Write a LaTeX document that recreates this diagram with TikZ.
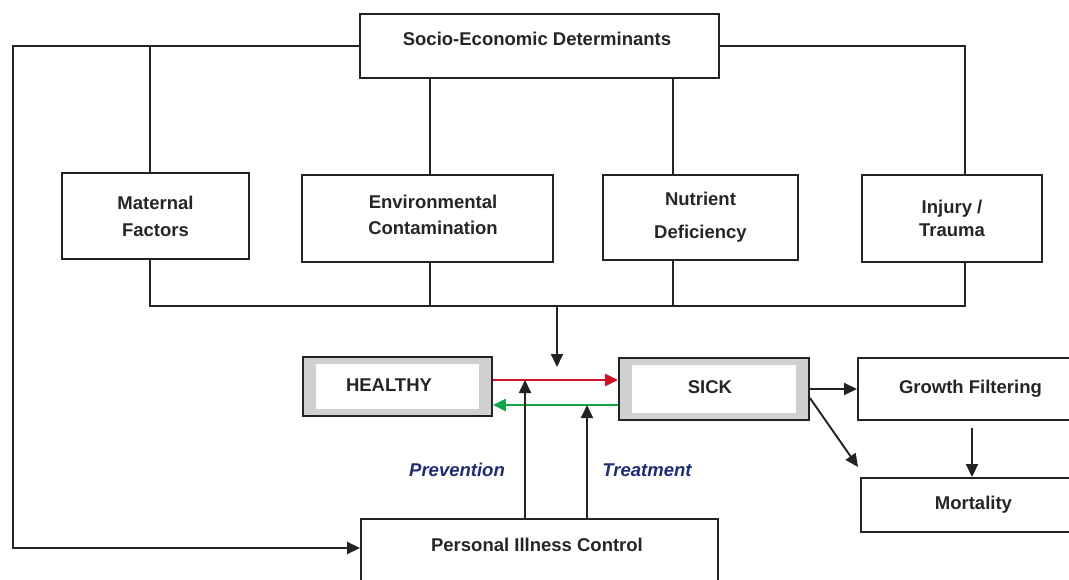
\documentclass[tikz,border=0pt]{standalone}
\usepackage{fontspec}
\setmainfont{Liberation Sans}
\usetikzlibrary{arrows.meta,calc}
\definecolor{linecol}{RGB}{35,35,35}
\definecolor{redarr}{RGB}{205,20,40}
\definecolor{greenarr}{RGB}{20,165,70}
\definecolor{labblue}{RGB}{30,45,115}
\definecolor{bandgray}{RGB}{208,208,208}
\begin{document}
\begin{tikzpicture}[x=1pt,y=-1pt,
  conn/.style={draw=linecol,line width=1.9pt},
  arr/.style={conn,-{Triangle[length=13pt,width=12pt]}},
  box/.style={draw=linecol,line width=1.9pt,fill=white,inner sep=0pt,align=center,
    font=\fontsize{18.5}{27}\selectfont\bfseries,text=black!85},
  txt/.style={font=\fontsize{18.5}{22}\selectfont\bfseries,text=black!85,inner sep=0pt},
  statebox/.style={box,fill=bandgray,path picture={\fill[white]
    ($(path picture bounding box.north west)+(13,7)$) rectangle
    ($(path picture bounding box.south east)+(-13,-7)$);}},
  lab/.style={font=\fontsize{18.5}{22}\selectfont\bfseries\itshape,text=labblue,inner sep=0pt}]
\clip (0,0) rectangle (1069,580);
\fill[white] (0,0) rectangle (1069,580);

% boxes
\node[box,minimum width=359,minimum height=64] (soc) at (539.5,46) {};
\node[txt] (soctxt) at (537,39) {Socio-Economic Determinants};
\node[box,minimum width=187,minimum height=86] (mat) at (155.5,216) {Maternal\\Factors};
\node[box,minimum width=251,minimum height=87,font=\fontsize{18.5}{26}\selectfont\bfseries] (env) at (427.5,218.5) {};
\node[txt,align=center,font=\fontsize{18.5}{26}\selectfont\bfseries] (envtxt) at (433,215) {Environmental\\Contamination};
\node[box,minimum width=195,minimum height=85,font=\fontsize{18.5}{33}\selectfont\bfseries] (nut) at (700.5,217.5) {Nutrient\\Deficiency};
\node[box,minimum width=180,minimum height=87,font=\fontsize{18.5}{23}\selectfont\bfseries] (inj) at (952,218.5) {Injury /\\Trauma};

\node[statebox,minimum width=189,minimum height=59] (healthy) at (397.5,386.5) {};
\node[txt] (healthytxt) at (389,385) {HEALTHY};
\node[statebox,minimum width=190,minimum height=62] (sick) at (714,389) {};
\node[txt] (sicktxt) at (710,387) {SICK};
\node[box,minimum width=225,minimum height=62,anchor=west] (grow) at (857,389) {Growth Filtering};
\node[box,minimum width=225,minimum height=54,anchor=west] (mort) at (860,505) {Mortality};
\node[box,minimum width=357,minimum height=72,anchor=north] (pic) at (539.5,518) {};
\node[txt] (pictxt) at (537,545) {Personal Illness Control};

\node[lab] (prev) at (457,470) {Prevention};
\node[lab] (treat) at (647,470) {Treatment};

% coordinates
\coordinate (tl) at (13,46);
\coordinate (bl) at (13,548);
\coordinate (matx) at (150,46);
\coordinate (tr) at (965,46);
\coordinate (envx) at (430,0);
\coordinate (nutx) at (673,0);
\coordinate (bmat) at (150,306);
\coordinate (binj) at (965,306);
\coordinate (mid) at (557,306);
\coordinate (midend) at (557,367);
\coordinate (redy) at (0,380);
\coordinate (greeny) at (0,405);
\coordinate (px) at (525,0);
\coordinate (tx) at (587,0);
\coordinate (mtip) at (858,467);
\coordinate (gtop) at (972,428);

% top connectors
\draw[arr] (soc.west) -- (tl) -- (bl) -- (bl -| pic.west);
\draw[conn] (matx) -- (matx |- mat.north);
\draw[conn] (soc.east) -- (tr) -- (tr |- inj.north);
\draw[conn] (envx |- soc.south) -- (envx |- env.north);
\draw[conn] (nutx |- soc.south) -- (nutx |- nut.north);

% bracket
\draw[conn] (matx |- mat.south) -- (bmat) -- (binj) -- (tr |- inj.south);
\draw[conn] (envx |- env.south) -- (envx |- bmat);
\draw[conn] (nutx |- nut.south) -- (nutx |- bmat);
\draw[arr] (mid) -- (midend);

% state arrows
\draw[arr,draw=redarr,line width=2.8pt] (healthy.east |- redy) -- (sick.west |- redy);
\draw[arr,draw=greenarr,line width=2.8pt] (sick.west |- greeny) -- (healthy.east |- greeny);
\draw[arr] (px |- pic.north) -- (px |- redy);
\draw[arr] (tx |- pic.north) -- (tx |- greeny);

% outcomes
\draw[arr] (sick.east) -- (grow.west);
\draw[arr] ([yshift=-9pt]sick.east) -- (mtip);
\draw[arr] (gtop) -- (gtop |- mort.north);
\end{tikzpicture}
\end{document}
